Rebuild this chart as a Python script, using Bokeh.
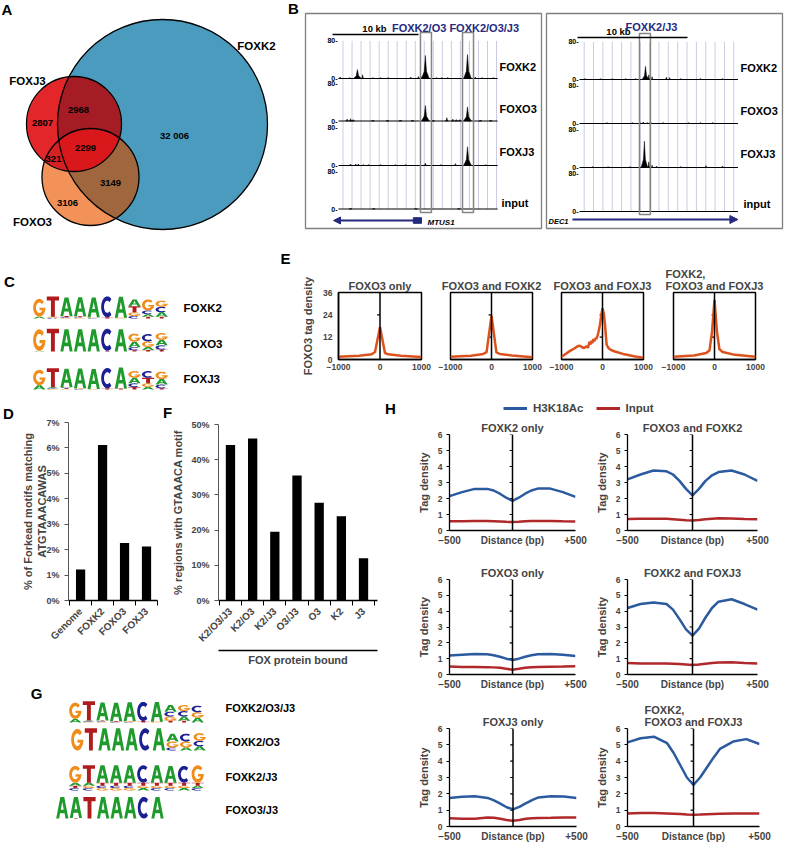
import numpy as np
from math import pi
from bokeh.plotting import figure
from bokeh.models import (Range1d, FixedTicker, Legend, LegendItem, LinearAxis,
                          Arrow, NormalHead, Span)
from bokeh.core.properties import value
from bokeh.embed import file_html
from bokeh.resources import INLINE

# ======================= DATA =======================
# A: Venn diagram of bound regions
VENN_SETS = ["FOXK2", "FOXJ3", "FOXO3"]
VENN_REGIONS = ["K2", "J3", "O3", "J3+K2", "J3+O3", "O3+K2", "J3+O3+K2"]
VENN_COUNTS = [32006, 2807, 3106, 2968, 321, 3149, 2299]

# B: genome browser tracks (peak position in kb, peak height 0-80)
B_TRACKS = ["FOXK2", "FOXO3", "FOXJ3", "input"]
B1_TITLE = "FOXK2/O3 FOXK2/O3/J3"
B1_GENE = "MTUS1"
B1_SPAN_KB = 18.5
B1_POS = [[0.2, 1.3, 2.2, 2.8, 4.0, 4.9, 5.8, 8.4, 9.3, 9.6, 10.1, 11.4, 12.0, 12.7, 15.0, 15.9, 16.7, 18.0],
          [1.0, 1.4, 1.7, 4.0, 5.7, 7.2, 8.6, 10.1, 11.0, 12.6, 13.3, 13.7, 14.1, 15.0, 16.5, 17.7],
          [1.4, 2.0, 2.3, 2.9, 3.5, 4.9, 6.6, 7.8, 10.1, 11.9, 13.6, 15.0, 17.1],
          [1.4, 4.1, 9.0, 14.0]]
B1_HT = [[3, 2, 19, 8, 2, 2, 2, 3, 4, 4, 49, 2, 2, 2, 51, 3, 2, 2],
         [4, 5, 3, 2, 2, 2, 2, 33, 2, 7, 4, 3, 3, 30, 2, 2],
         [3, 3, 3, 2, 2, 2, 2, 2, 5, 2, 4, 40, 2],
         [1.5, 1, 1, 1]]
B1_BOX_KB = [(9.53, 10.81), (14.42, 15.70)]
B1_GENE_KB = (9.65, -0.58)
B1_GENE_BOX_KB = (8.7, 9.65)
B1_SCALE_START = -0.7

B2_TITLE = "FOXK2/J3"
B2_GENE = "DEC1"
B2_SPAN_KB = 14.4
B2_POS = [[0.5, 1.9, 3.0, 4.2, 5.1, 6.0, 6.3, 6.6, 7.9, 8.2, 9.2, 11.0, 13.0],
          [2.5, 4.8, 5.5, 5.8, 6.2, 6.5, 7.6, 9.9, 11.0, 12.1],
          [1.2, 2.6, 4.6, 5.9, 6.3, 6.6, 7.0, 9.2, 11.5, 13.0],
          []]
B2_HT = [[2, 2, 2, 2, 2, 28, 10, 6, 5, 4, 2, 2, 2],
         [2, 2, 2, 3, 2, 2, 2, 2, 2, 2],
         [2, 2, 2, 56, 12, 5, 3, 2, 4, 3],
         []]
B2_BOX_KB = [(5.45, 6.45)]
B2_GENE_KB = (-0.64, 14.4)
B2_SCALE_START = -0.18
SCALE_KB = 10

# C / G: sequence logos, each position = stack of (letter, bits) bottom -> top
LOGO_C_NAMES = ["FOXK2", "FOXO3", "FOXJ3"]
LOGO_C = [
    [[("A", .15), ("G", 1.45)], [("C", .04), ("A", .05), ("G", .05), ("T", 1.65)],
     [("G", .05), ("C", .07), ("T", .08), ("A", 1.5)], [("G", .05), ("C", .06), ("T", .07), ("A", 1.55)],
     [("C", .05), ("G", .06), ("A", 1.6)], [("T", .1), ("C", 1.7)], [("G", .06), ("A", 1.7)],
     [("C", .2), ("G", .3), ("T", .5), ("A", .55)], [("T", .15), ("A", .2), ("C", .3), ("G", .9)],
     [("T", .15), ("A", .35), ("C", .45), ("G", .5)]],
    [[("A", .05), ("G", 1.75)], [("T", 1.85)], [("A", 1.8)], [("A", 1.8)], [("A", 1.8)],
     [("T", .05), ("C", 1.8)], [("A", 1.8)],
     [("T", .1), ("C", .25), ("A", .45), ("G", .65)], [("T", .12), ("A", .25), ("G", .45), ("C", .6)],
     [("T", .15), ("C", .35), ("A", .45), ("G", .55)]],
    [[("A", .35), ("G", 1.25)], [("G", .05), ("C", .05), ("A", .08), ("T", 1.55)],
     [("G", .05), ("T", .06), ("C", .07), ("A", 1.5)], [("C", .05), ("G", .05), ("A", 1.6)],
     [("G", .05), ("A", 1.62)], [("T", .1), ("C", 1.65)], [("T", .08), ("A", 1.7)],
     [("T", .2), ("C", .3), ("A", .45), ("G", .55)], [("A", .2), ("G", .3), ("T", .45), ("C", .55)],
     [("T", .1), ("C", .3), ("A", .45), ("G", .6)]],
]
LOGO_G_NAMES = ["FOXK2/O3/J3", "FOXK2/O3", "FOXK2/J3", "FOXO3/J3"]
LOGO_G = [
    [[("A", .3), ("G", 1.35)], [("G", .05), ("C", .05), ("A", .07), ("T", 1.6)],
     [("G", .05), ("C", .06), ("T", .06), ("A", 1.5)], [("C", .05), ("T", .05), ("A", 1.55)],
     [("C", .05), ("G", .05), ("A", 1.58)], [("T", .12), ("C", 1.6)], [("G", .06), ("A", 1.65)],
     [("T", .15), ("G", .35), ("C", .4), ("A", .55)], [("T", .15), ("A", .35), ("C", .45), ("G", .5)],
     [("A", .4), ("G", .45), ("C", .55)]],
    [[("G", 1.8)], [("T", 1.85)], [("A", 1.85)], [("A", 1.85)], [("A", 1.85)], [("C", 1.85)], [("A", 1.85)],
     [("C", .25), ("G", .5), ("A", .65)], [("A", .25), ("G", .5), ("C", .65)],
     [("A", .35), ("C", .45), ("G", .65)]],
    [[("C", .2), ("T", .2), ("A", .25), ("G", 1.4)], [("C", .2), ("G", .2), ("A", .25), ("T", 1.45)],
     [("G", .2), ("C", .2), ("T", .25), ("A", 1.45)], [("G", .2), ("C", .2), ("T", .25), ("A", 1.45)],
     [("G", .2), ("C", .2), ("T", .25), ("A", 1.45)], [("A", .2), ("G", .2), ("T", .25), ("C", 1.45)],
     [("C", .2), ("G", .2), ("T", .25), ("A", 1.45)], [("C", .2), ("G", .2), ("T", .25), ("A", 1.4)],
     [("A", .2), ("G", .2), ("T", .25), ("C", 1.4)], [("C", .2), ("A", .2), ("T", .25), ("G", 1.45)]],
    [[("A", 1.8)], [("T", .05), ("A", 1.75)], [("T", 1.8)], [("A", 1.8)], [("A", 1.8)],
     [("A", 1.8)], [("C", 1.8)], [("A", 1.8)]],
]

# D: % of Forkhead motifs matching ATGTAAACAWAS
D_LABELS = ["Genome", "FOXK2", "FOXO3", "FOXJ3"]
D_VALUES = [1.22, 6.12, 2.26, 2.12]

# F: % regions with GTAAACA motif
F_LABELS = ["K2/O3/J3", "K2/O3", "K2/J3", "O3/J3", "O3", "K2", "J3"]
F_VALUES = [44.2, 46.0, 19.5, 35.5, 27.8, 23.9, 12.0]

# E: FOXO3 tag density profiles
E_TITLES = ["FOXO3 only", "FOXO3 and FOXK2", "FOXO3 and FOXJ3", "FOXK2,\nFOXO3 and FOXJ3"]
E_X = [[-1000, -500, -200, -120, 0, 120, 200, 500, 1000],
       [-1000, -500, -200, -120, 0, 120, 200, 500, 1000],
       [-1000, -900, -800, -700, -600, -550, -500, -450, -400, -350, -320, -300, -270, -250, -220, -200,
        -170, -150, -120, -100, -60, -30, 0, 30, 60, 100, 150, 200, 300, 500, 800, 1000],
       [-1000, -500, -200, -120, -60, 0, 60, 120, 200, 500, 1000]]
E_Y = [[1.5, 2.0, 2.8, 4.0, 17.5, 3.5, 2.8, 2.0, 1.3],
       [1.5, 2.0, 3.0, 4.0, 23.5, 3.8, 3.0, 2.2, 1.2],
       [1.5, 3.0, 4.5, 5.8, 7.2, 7.4, 6.6, 6.2, 7.0, 6.4, 9.5, 8.0, 10.0, 8.8, 11.0, 9.8,
        11.5, 11.0, 13.0, 14.5, 19.0, 24.0, 27.5, 25.0, 19.0, 8.0, 6.0, 5.2, 4.3, 3.0, 1.6, 1.0],
       [1.5, 2.2, 3.5, 5.0, 15.0, 32.0, 15.0, 5.5, 4.0, 2.5, 1.5]]
E_YTICKS = [0, 12, 24, 36]
E_CTICKS = [12, 24]

# H: H3K18Ac vs input tag density
H_TITLES = ["FOXK2 only", "FOXO3 and FOXK2", "FOXO3 only", "FOXK2 and FOXJ3", "FOXJ3 only",
            "FOXK2,\nFOXO3 and FOXJ3"]
H_X = [-500, -400, -300, -200, -150, -100, -50, 0, 50, 100, 150, 200, 300, 400, 500]
H_BLUE = [[2.15, 2.4, 2.6, 2.6, 2.5, 2.3, 2.05, 1.85, 2.05, 2.3, 2.5, 2.62, 2.62, 2.4, 2.1],
          [3.2, 3.5, 3.75, 3.7, 3.5, 3.1, 2.6, 2.2, 2.6, 3.1, 3.45, 3.65, 3.75, 3.5, 3.1],
          [1.2, 1.25, 1.3, 1.28, 1.22, 1.12, 1.0, 0.92, 1.0, 1.12, 1.22, 1.28, 1.3, 1.25, 1.17],
          [4.2, 4.45, 4.55, 4.45, 4.1, 3.5, 2.85, 2.45, 2.9, 3.6, 4.2, 4.6, 4.75, 4.45, 4.1],
          [1.75, 1.82, 1.85, 1.75, 1.6, 1.4, 1.18, 1.05, 1.2, 1.42, 1.62, 1.78, 1.85, 1.83, 1.75],
          [5.15, 5.4, 5.5, 5.1, 4.5, 3.75, 3.0, 2.55, 3.0, 3.6, 4.2, 4.75, 5.2, 5.35, 5.05]]
H_RED = [[.58, .58, .6, .6, .58, .56, .54, .53, .55, .58, .6, .6, .6, .58, .57],
         [.72, .73, .74, .73, .7, .67, .64, .62, .65, .7, .73, .76, .75, .72, .7],
         [.5, .48, .47, .46, .45, .42, .36, .3, .36, .43, .46, .48, .49, .5, .52],
         [.72, .7, .7, .7, .68, .66, .63, .6, .63, .68, .72, .76, .77, .73, .7],
         [.5, .48, .47, .55, .53, .47, .4, .35, .4, .47, .5, .52, .53, .55, .55],
         [.8, .82, .82, .8, .78, .76, .73, .72, .73, .75, .77, .78, .8, .8, .8]]
H_YTICKS = [0, 1, 2, 3, 4, 5, 6]
H_SERIES = ["H3K18Ac", "Input"]

PANEL_LETTERS = ["A", "B", "C", "D", "E", "F", "G", "H"]

# ======================= STYLE / LAYOUT =======================
FONT = "Liberation Sans"
NAVY = "#252a7e"
E_COLOR = "#dc521d"
H_BLUE_C = "#2c5a9f"
H_RED_C = "#b1282b"
LETTER_COL = {"A": "#1f9a2c", "C": "#1c2090", "G": "#f08c1a", "T": "#b01c1e"}
ROOTS = []


def make_fig(X0, X1, Y0, Y1, F=None, xr=None, yr=None, xaxis=False, yaxis=False, title=None):
    """Figure placed at page position (X0, Y0) with frame box F = (x0, x1, y0, y1), page px."""
    if F is None:
        F = (X0, X1, Y0, Y1)
    if xr is None:
        xr = (F[0], F[1])
    if yr is None:
        yr = (F[3], F[2])
    kw = {}
    if title is not None:
        kw["title"] = title
    p = figure(width=X1 - X0, height=Y1 - Y0,
               x_range=Range1d(*xr), y_range=Range1d(*yr),
               x_axis_type="linear" if xaxis else None,
               y_axis_type="linear" if yaxis else None,
               output_backend="svg", toolbar_location=None,
               min_border_left=F[0] - X0, min_border_right=X1 - F[1],
               min_border_top=F[2] - Y0, min_border_bottom=Y1 - F[3],
               styles={"position": "absolute", "left": f"{X0}px", "top": f"{Y0}px"}, **kw)
    p.outline_line_color = None
    p.xgrid.visible = False
    p.ygrid.visible = False
    p.background_fill_alpha = 0
    p.border_fill_alpha = 0
    if title is not None:
        p.title.text_font = FONT
        p.title.text_font_size = "11px"
        p.title.text_font_style = "bold"
        p.title.align = "center"
        p.title.standoff = 2
    ROOTS.append(p)
    return p, (F, xr, yr)


def to_data(info, rx, ry):
    F, xr, yr = info
    x = xr[0] + (rx - F[0]) / (F[1] - F[0]) * (xr[1] - xr[0])
    y = yr[1] + (ry - F[2]) / (F[3] - F[2]) * (yr[0] - yr[1])
    return x, y


def txt(p, info, rx, ry, s, size, color="black", align="left", style="bold", baseline="middle"):
    x, y = to_data(info, rx, ry)
    p.text(x=[x], y=[y], text=[s], text_font=value(FONT), text_font_size=f"{size}px",
           text_font_style=style, text_color=color, text_align=align, text_baseline=baseline)


def style_axis(ax, size=9):
    ax.major_label_text_font = FONT
    ax.major_label_text_font_style = "bold"
    ax.major_label_text_font_size = f"{size}px"
    ax.axis_label_text_font = FONT
    ax.axis_label_text_font_style = "bold"
    ax.axis_label_text_font_size = "11px"
    ax.minor_tick_line_color = None
    ax.major_tick_in = 0
    ax.axis_line_color = "black"


# ---------------- A: Venn ----------------
VK = (162, 124, 105)
VJ = (73.5, 123.5, 47.5)
VO = (90, 176.5, 48.5)
pA, iA = make_fig(0, 290, 0, 240, xr=(0, 290), yr=(0, 240))


def venn_image():
    W, H, ss = 290, 240, 4
    xs = (np.arange(W * ss) + 0.5) / ss
    ys = (np.arange(H * ss) + 0.5) / ss
    X, Y = np.meshgrid(xs, ys)
    k = (X - VK[0]) ** 2 + (Y - VK[1]) ** 2 <= VK[2] ** 2
    j = (X - VJ[0]) ** 2 + (Y - VJ[1]) ** 2 <= VJ[2] ** 2
    o = (X - VO[0]) ** 2 + (Y - VO[1]) ** 2 <= VO[2] ** 2
    rgb = np.full(X.shape + (3,), 255.0)
    rgb[k & ~j & ~o] = (74, 155, 189)
    rgb[j & ~k & ~o] = (227, 38, 42)
    rgb[o & ~k & ~j] = (242, 146, 88)
    rgb[j & k & ~o] = (166, 28, 36)
    rgb[o & k & ~j] = (160, 103, 62)
    rgb[j & o & ~k] = (214, 33, 36)
    rgb[j & o & k] = (218, 24, 28)
    rgb = rgb.reshape(H, ss, W, ss, 3).mean(axis=(1, 3))[::-1]
    out = np.empty((H, W), dtype=np.uint32)
    view = out.view(dtype=np.uint8).reshape((H, W, 4))
    view[:, :, :3] = np.round(rgb).astype(np.uint8)
    view[:, :, 3] = 255
    return out


pA.image_rgba(image=[venn_image()], x=0, y=0, dw=290, dh=240)
for (cx, cy, r) in (VK, VO, VJ):
    x, y = to_data(iA, cx, cy)
    pA.circle(x=[x], y=[y], radius=r, fill_color=None, line_color="black", line_width=1.3)


def fmt_count(n):
    return f"{n:,}".replace(",", " ") if n >= 10000 else str(n)


VENN_TEXT_POS = [(174, 135), (42, 122), (67, 202), (78, 109), (53, 158), (110, 182), (85, 147)]
for (rx, ry), n in zip(VENN_TEXT_POS, VENN_COUNTS):
    txt(pA, iA, rx, ry, fmt_count(n), 9.5, align="center")
for (rx, ry), s in zip([(256, 45), (27, 80), (32, 221)], VENN_SETS):
    txt(pA, iA, rx, ry, s, 11.5, align="center")

# ---------------- B: browser tracks ----------------
PXS = 0.47


def browser(X0, X1, F, kb0, pxkb, bases, span, pos, ht, grid_step, w_big, w_small):
    xr = ((F[0] - kb0) / pxkb, (F[1] - kb0) / pxkb)
    yr = ((bases[0] - F[3]) / PXS, (bases[0] - F[2]) / PXS)
    p, info = make_fig(X0, X1, 0, 240, F=F, xr=xr, yr=yr)
    p.outline_line_color = "#7f7f7f"
    p.outline_line_width = 1.3
    offs = [(bases[0] - b) / PXS for b in bases]
    gx = np.arange(grid_step * 0.5, span, grid_step)
    p.segment(x0=gx, x1=gx, y0=offs[-1], y1=offs[0] + 80, line_color="#c9cce3", line_width=1)
    for k in range(len(pos)):
        xs, ys = [], []
        for x, h in zip(pos[k], ht[k]):
            w = w_big if h >= 15 else w_small
            xs.append([x - w / 2, x - w * 0.15, x, x + w * 0.15, x + w / 2])
            ys.append([offs[k], offs[k] + 0.3 * h, offs[k] + h, offs[k] + 0.3 * h, offs[k]])
        if xs:
            p.patches(xs, ys, fill_color="black", line_color="black", line_width=0.5)
    p.segment(x0=[0] * len(offs), x1=[span] * len(offs), y0=offs, y1=offs,
              line_color="black", line_width=1.2)
    return p, info, offs


def track_axis_labels(p, info, offs, rx):
    x, _ = to_data(info, rx, 0)
    for o in offs:
        p.text(x=[x, x], y=[o + 80, o], text=["80-", "0-"], text_font=value(FONT),
               text_font_size="7px", text_font_style="bold", text_align="right",
               text_baseline="middle")


# left browser box
B1_F = (305, 541, 13, 228)
pB1, iB1, off1 = browser(290, 543, B1_F, 338, 8.6, [78, 120.5, 165, 208.5], B1_SPAN_KB,
                         B1_POS, B1_HT, 1.05, 0.9, 0.35)
track_axis_labels(pB1, iB1, off1, 337)
_, by0 = to_data(iB1, 0, 212)
_, by1 = to_data(iB1, 0, 32)
pB1.quad(left=[b[0] for b in B1_BOX_KB], right=[b[1] for b in B1_BOX_KB], bottom=by0, top=by1,
         fill_color=None, line_color="#858585", line_width=1.5)
_, sy = to_data(iB1, 0, 34)
pB1.segment(x0=[B1_SCALE_START], x1=[B1_SCALE_START + SCALE_KB], y0=[sy], y1=[sy],
            line_color="black", line_width=1.6)
txt(pB1, iB1, 374, 33, "10 kb", 9.5, align="center", baseline="bottom")
txt(pB1, iB1, 455, 27, B1_TITLE, 11, color=NAVY, align="center")
_, gy = to_data(iB1, 0, 220)
pB1.add_layout(Arrow(end=NormalHead(size=7, fill_color=NAVY, line_color=NAVY),
                     x_start=B1_GENE_KB[0], y_start=gy, x_end=B1_GENE_KB[1], y_end=gy,
                     line_color=NAVY, line_width=2))
pB1.quad(left=[B1_GENE_BOX_KB[0]], right=[B1_GENE_BOX_KB[1]], bottom=gy - 6, top=gy + 6,
         fill_color=NAVY, line_color=NAVY)
txt(pB1, iB1, 427, 222, B1_GENE, 8, style="bold italic")
for ry, s in zip([66, 108, 151, 202], B_TRACKS):
    txt(pB1, iB1, 499 if s != "input" else 501, ry, s, 11)

# right browser box
B2_F = (546, 782, 13, 228)
pB2, iB2, off2 = browser(543, 796, B2_F, 579, 11.0, [79, 123, 167, 211], B2_SPAN_KB,
                         B2_POS, B2_HT, 0.85, 0.6, 0.25)
track_axis_labels(pB2, iB2, off2, 578)
_, by0 = to_data(iB2, 0, 214)
_, by1 = to_data(iB2, 0, 33)
pB2.quad(left=[b[0] for b in B2_BOX_KB], right=[b[1] for b in B2_BOX_KB], bottom=by0, top=by1,
         fill_color=None, line_color="#858585", line_width=1.5)
_, sy = to_data(iB2, 0, 37)
pB2.segment(x0=[B2_SCALE_START], x1=[B2_SCALE_START + SCALE_KB], y0=[sy], y1=[sy],
            line_color="black", line_width=1.6)
txt(pB2, iB2, 618, 36, "10 kb", 9.5, align="center", baseline="bottom")
txt(pB2, iB2, 651, 26, B2_TITLE, 11, color=NAVY, align="center")
_, gy = to_data(iB2, 0, 219)
pB2.add_layout(Arrow(end=NormalHead(size=8, fill_color=NAVY, line_color=NAVY),
                     x_start=B2_GENE_KB[0], y_start=gy, x_end=B2_GENE_KB[1], y_end=gy,
                     line_color=NAVY, line_width=2))
txt(pB2, iB2, 548, 221, B2_GENE, 7.5, style="bold italic")
for ry, s in zip([67, 110, 153, 203], B_TRACKS):
    txt(pB2, iB2, 740 if s != "input" else 743, ry, s, 11)


# ---------------- logos ----------------
def letter_rings(ch):
    if ch == "A":
        return [([0, .34, .66, 1, .76, .685, .315, .24], [0, 1, 1, 0, 0, .24, .24, 0]),
                ([.385, .5, .615], [.41, .77, .41])]
    if ch == "T":
        return [([0, 1, 1, .66, .66, .34, .34, 0], [1, 1, .8, .8, 0, 0, .8, .8])]
    if ch == "C":
        t1 = np.radians(np.linspace(48, 312, 36))
        t2 = t1[::-1]
        xs = np.r_[.5 + .5 * np.cos(t1), .5 + .27 * np.cos(t2)]
        ys = np.r_[.5 + .5 * np.sin(t1), .5 + .29 * np.sin(t2)]
        return [(xs, ys)]
    t1 = np.radians(np.linspace(42, 360, 40))
    t2 = np.radians(np.linspace(-22, -318, 36))
    xs = np.r_[.5 + .5 * np.cos(t1), [.52, .52, .77], .5 + .27 * np.cos(t2)]
    ys = np.r_[.5 + .5 * np.sin(t1), [.5, .36, .36], .5 + .29 * np.sin(t2)]
    return [(xs, ys)]


def draw_logo(p, logos, row_x, row_y):
    XS, YS, CS = [], [], []
    for logo, x0, y0 in zip(logos, row_x, row_y):
        for i, stack in enumerate(logo):
            yb = y0
            for ch, h in stack:
                rings = letter_rings(ch)
                XS.append([[(x0 + i + 0.05 + 0.9 * np.asarray(rx, float)).tolist() for rx, ry in rings]])
                YS.append([[(yb + h * np.asarray(ry, float)).tolist() for rx, ry in rings]])
                CS.append(LETTER_COL[ch])
                yb += h
    p.multi_polygons(xs=XS, ys=YS, fill_color=CS, line_color=None)


C_OX, C_PW, C_OY, C_PH = 32, 13.6, 318, 12.3
C_ROW_X = [32, 32, 32]
C_ROW_BASE = [318, 351, 389]
pC, iC = make_fig(0, 276, 240, 392, xr=((0 - C_OX) / C_PW, (276 - C_OX) / C_PW),
                  yr=((C_OY - 392) / C_PH, (C_OY - 240) / C_PH))
draw_logo(pC, LOGO_C, [(x - C_OX) / C_PW for x in C_ROW_X], [(C_OY - b) / C_PH for b in C_ROW_BASE])
for ry, s in zip([307, 343, 378], LOGO_C_NAMES):
    txt(pC, iC, 183, ry, s, 11.5)

G_OX, G_PW, G_OY, G_PH = 68, 13.6, 722, 12.0
G_ROW_X = [68, 70, 68, 55]
G_ROW_BASE = [722, 750, 790, 818]
pG, iG = make_fig(0, 380, 677, 844, xr=((0 - G_OX) / G_PW, (380 - G_OX) / G_PW),
                  yr=((G_OY - 844) / G_PH, (G_OY - 677) / G_PH))
draw_logo(pG, LOGO_G, [(x - G_OX) / G_PW for x in G_ROW_X], [(G_OY - b) / G_PH for b in G_ROW_BASE])
for ry, s in zip([707, 741, 776, 809], LOGO_G_NAMES):
    txt(pG, iG, 225, ry, s, 11)

# ---------------- E: FOXO3 profiles ----------------
E_B = [276, 435, 545, 656, 796]
E_F = [(338, 421), (450, 532), (561, 643), (673, 755)]
for i in range(4):
    p, info = make_fig(E_B[i], E_B[i + 1], 240, 392, F=(E_F[i][0], E_F[i][1], 292, 359),
                       xr=(-1000, 1000), yr=(0, 36), xaxis=True, yaxis=(i == 0), title=E_TITLES[i])
    p.outline_line_color = "black"
    p.outline_line_width = 1.5
    p.add_layout(Span(location=0, dimension="height", line_color="black", line_width=1.5))
    p.segment(x0=-70, x1=0, y0=E_CTICKS, y1=E_CTICKS, line_color="black", line_width=1.2)
    p.line(E_X[i], E_Y[i], line_color=E_COLOR, line_width=2.5)
    ax = p.xaxis[0]
    style_axis(ax, 8.5)
    ax.ticker = FixedTicker(ticks=[-1000, 0, 1000])
    ax.major_label_overrides = {-1000: "\u22121000", 0: "0", 1000: "1000"}
    ax.major_tick_out = 0
    ax.major_label_standoff = 4
    ax.axis_line_width = 1.5
    if i == 0:
        ay = p.yaxis[0]
        style_axis(ay, 8.5)
        ay.ticker = FixedTicker(ticks=E_YTICKS)
        ay.major_tick_out = 0
        ay.major_label_standoff = 6
        ay.axis_label = "FOXO3 tag density"
        ay.axis_label_standoff = 6
        ay.axis_line_width = 1.5

# ---------------- D ----------------
pD, iD = make_fig(0, 165, 392, 677, F=(68, 157, 422, 600), xr=(-0.55, 3.5), yr=(0, 7),
                  xaxis=True, yaxis=True)
pD.vbar(x=list(range(len(D_VALUES))), top=D_VALUES, width=0.42, fill_color="black", line_color=None)
ay = pD.yaxis[0]
style_axis(ay, 9)
ay.ticker = FixedTicker(ticks=list(range(8)))
ay.major_label_overrides = {i: f"{i}%" for i in range(8)}
ay.major_tick_out = 4
ay.axis_line_color = "#555555"
ay.major_tick_line_color = "#555555"
ay.axis_label = "% of Forkead motifs matching\nATGTAAACAWAS"
ay.axis_label_standoff = -5
ax = pD.xaxis[0]
style_axis(ax, 10)
ax.ticker = FixedTicker(ticks=list(range(len(D_LABELS))),
                        minor_ticks=[k - 0.5 for k in range(len(D_LABELS) + 1)])
ax.major_label_overrides = {k: s for k, s in enumerate(D_LABELS)}
ax.major_label_orientation = pi / 4
ax.major_tick_line_color = None
ax.major_tick_out = 0
ax.minor_tick_line_color = "black"
ax.minor_tick_out = 5
ax.minor_tick_in = 0
ax.major_label_standoff = 4
ax.axis_line_width = 1.3

# ---------------- F ----------------
pF, iF = make_fig(165, 380, 392, 677, F=(218, 377, 424, 600), xr=(-0.54, 6.63), yr=(0, 50),
                  xaxis=True, yaxis=True)
pF.vbar(x=list(range(len(F_VALUES))), top=F_VALUES, width=0.42, fill_color="black", line_color=None)
ay = pF.yaxis[0]
style_axis(ay, 9)
ay.ticker = FixedTicker(ticks=[0, 10, 20, 30, 40, 50])
ay.major_label_overrides = {v: f"{v}%" for v in [0, 10, 20, 30, 40, 50]}
ay.major_tick_out = 4
ay.axis_line_color = "#555555"
ay.major_tick_line_color = "#555555"
ay.axis_label = "% regions with GTAAACA motif"
ay.axis_label_standoff = 4
ax = pF.xaxis[0]
style_axis(ax, 10)
ax.ticker = FixedTicker(ticks=list(range(len(F_LABELS))),
                        minor_ticks=[k - 0.5 for k in range(len(F_LABELS) + 1)])
ax.major_label_overrides = {k: s for k, s in enumerate(F_LABELS)}
ax.major_label_orientation = pi / 4
ax.major_tick_line_color = None
ax.major_tick_out = 0
ax.minor_tick_line_color = "black"
ax.minor_tick_out = 5
ax.minor_tick_in = 0
ax.major_label_standoff = 4
ax.axis_line_width = 1.3
ax2 = LinearAxis(ticker=FixedTicker(ticks=[]), axis_label="FOX protein bound")
style_axis(ax2, 10)
ax2.major_tick_line_color = None
ax2.axis_line_width = 1.5
ax2.axis_label_standoff = 3
pF.add_layout(ax2, "below")

# ---------------- H ----------------
pL, iL = make_fig(380, 796, 392, 415)
rb = pL.line(x=[np.nan], y=[np.nan], line_color=H_BLUE_C, line_width=3)
rr = pL.line(x=[np.nan], y=[np.nan], line_color=H_RED_C, line_width=3)
leg = Legend(items=[LegendItem(label=H_SERIES[0], renderers=[rb]),
                    LegendItem(label=H_SERIES[1], renderers=[rr])],
             orientation="horizontal", location=(503 - 380, 1),
             border_line_color=None, background_fill_alpha=0, padding=0, margin=0,
             spacing=12, label_standoff=6, glyph_width=24, glyph_height=12, label_height=12,
             label_text_font=FONT, label_text_font_style="bold", label_text_font_size="11.5px")
pL.add_layout(leg)

H_XB = [(380, 590), (590, 796)]
H_YB = [(415, 555), (555, 698), (698, 844)]
H_F = [(449, 575, 434, 530), (627, 757, 434, 530), (449, 575, 579, 674), (627, 757, 579, 674),
       (449, 576, 728, 826), (627, 759, 728, 826)]
for i in range(6):
    xb = H_XB[i % 2]
    yb = H_YB[i // 2]
    p, info = make_fig(xb[0], xb[1], yb[0], yb[1], F=H_F[i], xr=(-500, 500), yr=(0, 6),
                       xaxis=True, yaxis=True, title=H_TITLES[i])
    p.add_layout(Span(location=0, dimension="height", line_color="black", line_width=1.5))
    p.segment(x0=-22, x1=0, y0=H_YTICKS[1:], y1=H_YTICKS[1:], line_color="black", line_width=1.2)
    p.line(H_X, H_RED[i], line_color=H_RED_C, line_width=2.5)
    p.line(H_X, H_BLUE[i], line_color=H_BLUE_C, line_width=2.5)
    ay = p.yaxis[0]
    style_axis(ay, 8.5)
    ay.ticker = FixedTicker(ticks=H_YTICKS)
    ay.major_tick_out = 3
    ay.major_label_standoff = 4
    ay.axis_label = "Tag density"
    ay.axis_label_standoff = 5
    ay.axis_line_width = 1.3
    ax = p.xaxis[0]
    style_axis(ax, 10)
    ax.ticker = FixedTicker(ticks=[-500, 0, 500])
    ax.major_label_overrides = {-500: "\u2212500", 0: "Distance (bp)", 500: "+500"}
    ax.major_tick_line_color = None
    ax.major_tick_out = 0
    ax.major_label_standoff = 4
    ax.axis_line_width = 1.3

# ---------------- panel letters (transparent overlay) ----------------
pO, iO = make_fig(0, 790, 0, 840)
LETTER_POS = [(6.5, 9), (293, 8), (9, 281), (8, 413), (285, 258), (167, 412), (36, 693), (390, 408)]
pO.text(x=[q[0] for q in LETTER_POS], y=[q[1] for q in LETTER_POS], text=PANEL_LETTERS,
        text_font=value(FONT), text_font_size="15px", text_font_style="bold",
        text_align="center", text_baseline="middle")

open("out.html", "w").write(file_html(ROOTS, INLINE, title="FOX figure"))
